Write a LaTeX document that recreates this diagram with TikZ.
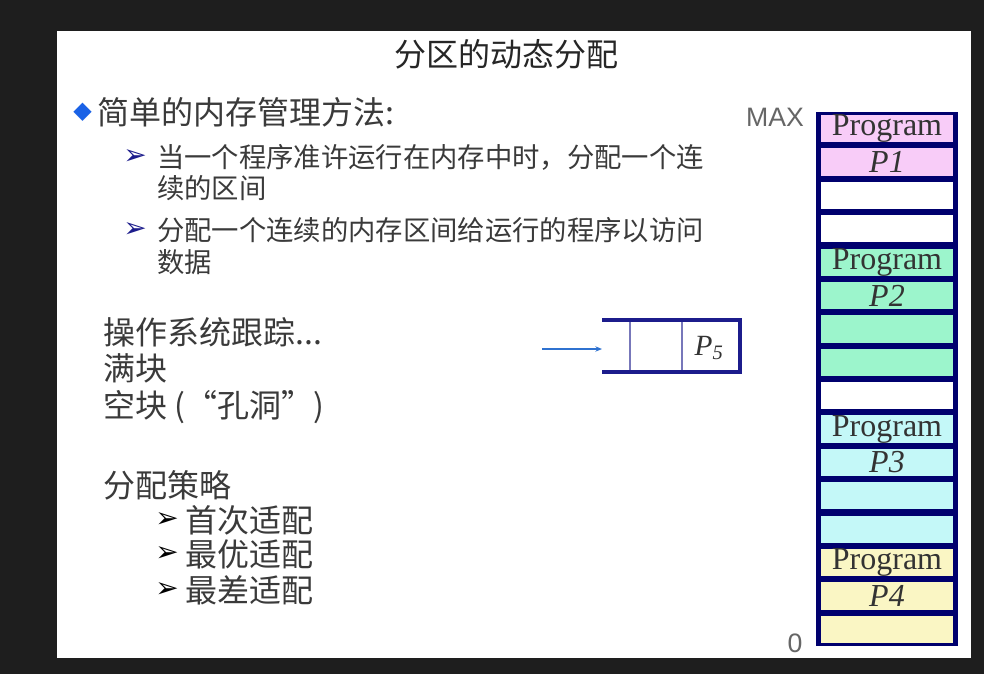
\documentclass[tikz,border=0pt]{standalone}
\usepackage{fontspec}
\setmainfont{Liberation Serif}
\newfontfamily\cjk{Noto Sans CJK SC}
\newfontfamily\symfont{DejaVu Sans}
\newfontfamily\labelfont{Liberation Sans}
\usepackage{tikz}
\usetikzlibrary{arrows.meta, positioning}
\usepackage{xcolor}
\definecolor{memnavy}{HTML}{00006E}
\definecolor{pinkmem}{HTML}{F8CCF8}
\definecolor{greenmem}{HTML}{9CF5CC}
\definecolor{cyanmem}{HTML}{C4F8F8}
\definecolor{yellowmem}{HTML}{FAF6C4}
\definecolor{slidebg}{HTML}{1E1E1E}
\definecolor{bodytext}{HTML}{3A3A3A}
\definecolor{bulletblue}{HTML}{1A62E6}
\definecolor{arrowblue}{HTML}{2F72D0}
\definecolor{queuenavy}{HTML}{1C1C8C}

\begin{document}
\begin{tikzpicture}[x=0.75pt, y=-0.75pt,
    cell/.style={minimum width=99pt, minimum height=20.5pt, inner sep=0pt},
    prog/.style={font=\fontsize{24}{24}\selectfont, inner sep=0pt, text=black!80},
    body/.style={font=\cjk\fontsize{24}{24}\selectfont, text=bodytext, anchor=west, inner sep=0pt},
    sub/.style={font=\cjk\fontsize{20.5}{20.5}\selectfont, text=bodytext, anchor=west, inner sep=0pt},
    arrowbullet/.style={font=\symfont\fontsize{21}{21}\selectfont, anchor=west, inner sep=0pt},
    axislabel/.style={font=\labelfont\fontsize{20}{20}\selectfont, text=black!60, inner sep=0pt},
    slot/.style={minimum height=39pt, inner sep=0pt, outer sep=0pt},
    queueline/.style={queuenavy, line width=2.4pt},
    divider/.style={queuenavy!60, line width=0.8pt}
]
\useasboundingbox (0,0) rectangle (984,674);

% Screen and slide
\fill[slidebg] (0,0) rectangle (984,674);
\fill[white] (57,31) rectangle (971,658);

% Title
\node[font=\cjk\fontsize{24}{24}\selectfont, text=black!85] (title) at (506,54) {分区的动态分配};

% Main bullet
\node[font=\symfont\fontsize{18}{18}\selectfont, text=bulletblue, anchor=west, inner sep=0pt] (diamond) at (73,112) {◆};
\node[body] (method) at (97,112) {简单的内存管理方法:};

% Sub bullets
\node[arrowbullet, text=queuenavy] (subA) at (123,157) {➢};
\node[sub] (subAa) at (157,157) {当一个程序准许运行在内存中时，分配一个连};
\node[sub] (subAb) at (157,188) {续的区间};
\node[arrowbullet, text=queuenavy] (subB) at (123,230) {➢};
\node[sub] (subBa) at (157,230) {分配一个连续的内存区间给运行的程序以访问};
\node[sub] (subBb) at (157,262) {数据};

% Tracking
\node[body] (track) at (103,332) {操作系统跟踪...};
\node[body] (full) at (103,368) {满块};
\node[body] (hole) at (103,407) {空块 (“孔洞”)};

% Strategies
\node[body] (policy) at (103,485) {分配策略};
\node[arrowbullet, text=black] (polA) at (155,520) {➢};
\node[body] (firstfit) at (185,520) {首次适配};
\node[arrowbullet, text=black] (polB) at (155,554) {➢};
\node[body] (bestfit) at (185,554) {最优适配};
\node[arrowbullet, text=black] (polC) at (155,590) {➢};
\node[body] (worstfit) at (185,590) {最差适配};

% Waiting queue
\node[slot, minimum width=21pt] (slotA) at (616,346) {};
\node[slot, minimum width=39pt] (slotB) at (656,346) {};
\node[slot, minimum width=43.5pt] (slotC) at (711,346) {};
\node[font=\fontsize{22}{22}\selectfont, text=black!80, inner sep=0pt] (pfive) at (709,348) {\textit{P}\textsubscript{\textit{5}}};
\draw[divider] (slotA.north east) -- (slotA.south east);
\draw[divider] (slotB.north east) -- (slotB.south east);
\draw[queueline] (slotA.north west) -- (slotC.north east) -- (slotC.south east) -- (slotA.south west);
\coordinate (qin) at (542,349);
\draw[arrowblue, line width=1pt, -{Stealth[length=5pt, width=4pt]}] (qin) -- (slotA.west |- qin);

% Memory column
\fill[memnavy] (816,112) rectangle (958,646);
\node[cell, fill=pinkmem] (m0) at (887,128.7) {};
\node[cell, fill=pinkmem] (m1) at (887,162.1) {};
\node[cell, fill=white] (m2) at (887,195.4) {};
\node[cell, fill=white] (m3) at (887,228.8) {};
\node[cell, fill=greenmem] (m4) at (887,262.2) {};
\node[cell, fill=greenmem] (m5) at (887,295.6) {};
\node[cell, fill=greenmem] (m6) at (887,328.9) {};
\node[cell, fill=greenmem] (m7) at (887,362.3) {};
\node[cell, fill=white] (m8) at (887,395.7) {};
\node[cell, fill=cyanmem] (m9) at (887,429.0) {};
\node[cell, fill=cyanmem] (m10) at (887,462.4) {};
\node[cell, fill=cyanmem] (m11) at (887,495.8) {};
\node[cell, fill=cyanmem] (m12) at (887,529.2) {};
\node[cell, fill=yellowmem] (m13) at (887,562.5) {};
\node[cell, fill=yellowmem] (m14) at (887,595.9) {};
\node[cell, fill=yellowmem] (m15) at (887,629.3) {};

% Program labels
\node[prog] (progA) at (m0) {Program};
\node[prog] (pA) at (m1) {\textit{P1}};
\node[prog] (progB) at (m4) {Program};
\node[prog] (pB) at (m5) {\textit{P2}};
\node[prog] (progC) at (m9) {Program};
\node[prog] (pC) at (m10) {\textit{P3}};
\node[prog] (progD) at (m13) {Program};
\node[prog] (pD) at (m14) {\textit{P4}};

% Address labels
\node[axislabel] (maxlabel) at (775,117) {MAX};
\node[axislabel] (zerolabel) at (795,643) {0};

\end{tikzpicture}
\end{document}
